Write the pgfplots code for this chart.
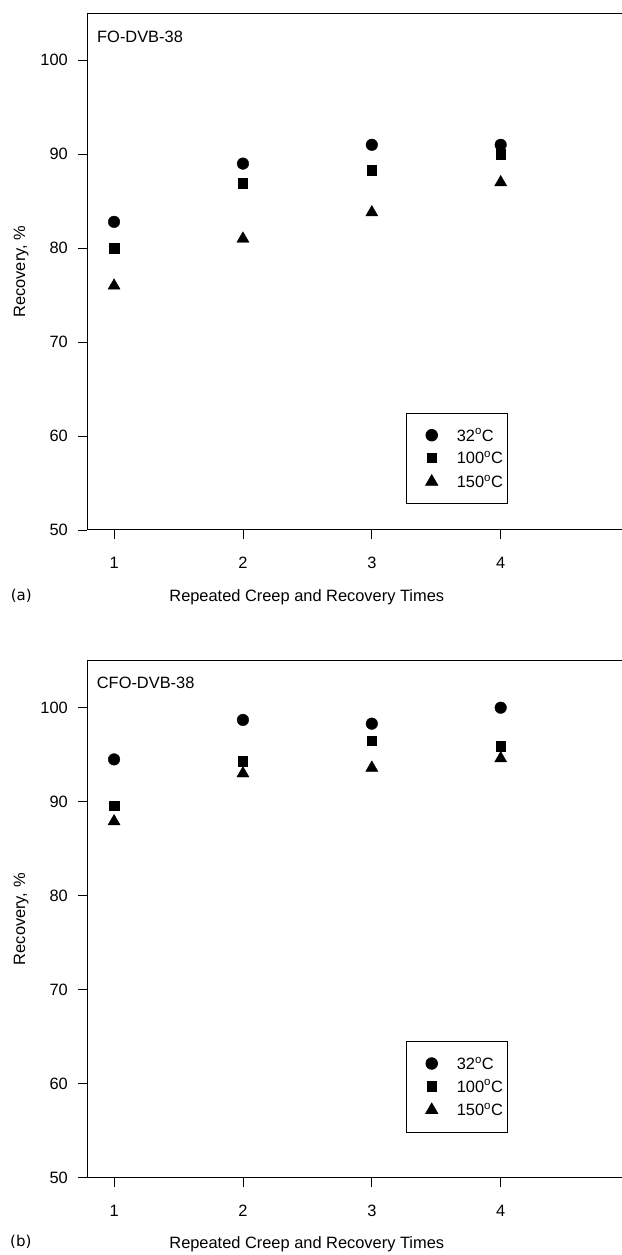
\documentclass[border=0pt]{standalone}
\usepackage{fontspec}
\setmainfont{Liberation Sans}
\newfontfamily\tagfont{DejaVu Sans}
\usepackage{pgfplots}
\pgfplotsset{compat=1.18}
\newcommand\fs{\fontsize{16.4}{19.7}\selectfont}
\pgfplotsset{
  panel/.style={
    scale only axis, width=536pt, height=516.7pt,
    xmin=0.79, xmax=4.949, ymin=50, ymax=105,
    axis x line*=bottom, axis y line*=left, clip=false,
    xtick={1,2,3,4}, ytick={50,60,70,80,90,100},
    tick align=outside, major tick length=9pt,
    tick style={black, line width=0.8pt},
    axis line style={line width=1pt, black},
    font=\fs,
    tick label style={font=\fs},
    label style={font=\fs},
    /pgf/number format/assume math mode=true,
    xticklabel style={anchor=center, inner sep=0pt, yshift=-24pt},
    yticklabel style={anchor=east, inner sep=0pt, xshift=-10pt},
    xlabel={Repeated Creep and Recovery Times},
    ylabel={Recovery, \%},
    xlabel style={at={(axis description cs:0.41,-0.131)}, anchor=center, inner sep=0pt},
    ylabel style={at={(axis description cs:-0.123,0.5)}, anchor=center, inner sep=0pt},
    legend cell align=left,
    legend image code/.code={\path (-20pt,0pt) (0pt,0pt);\draw[##1] plot coordinates {(0pt,0pt)};},
    legend style={anchor=south west, draw=black, line width=0.8pt,
      inner xsep=5pt, inner ysep=16pt, row sep=11pt, column sep=19pt,
      nodes={inner sep=0pt, text height=11.7pt, text depth=0pt}, font=\fs},
  },
  sA/.style={only marks, mark=*, mark size=5.8pt, black, mark options={fill=black, draw=black}},
  sB/.style={only marks, mark=square*, mark size=4.7pt, black, mark options={fill=black, draw=black}},
  sC/.style={only marks, mark=triangle*, mark size=7pt, black, mark options={fill=black, draw=black}},
}
\begin{document}
\begin{tikzpicture}
\path[use as bounding box] (0pt,0pt) rectangle (621pt,1255pt);
\begin{axis}[panel, at={(87pt,725pt)}, anchor=south west,
  legend style={at={(axis description cs:0.595,0.0503)}}]
\addplot[sA] coordinates {(1,82.8) (2,89.0) (3,91.0) (4,91.0)};
\addlegendentry{32\textsuperscript{o}C}
\addplot[sB] coordinates {(1,80.0) (2,86.9) (3,88.3) (4,90.0)};
\addlegendentry{100\textsuperscript{o}C}
\addplot[sC] coordinates {(1,76.0) (2,81.0) (3,83.8) (4,87.0)};
\addlegendentry{150\textsuperscript{o}C}
\draw[line width=1pt, black] (rel axis cs:0,1) -- (rel axis cs:1,1);
\node[anchor=west, inner sep=0pt, font=\fs] at (rel axis cs:0.0187,0.9547) {FO-DVB-38};
\end{axis}
\begin{axis}[panel, height=517pt, at={(87pt,77.3pt)}, anchor=south west,
  xlabel style={at={(axis description cs:0.41,-0.128)}},
  legend style={at={(axis description cs:0.595,0.0878)}}]
\addplot[sA] coordinates {(1,94.5) (2,98.7) (3,98.3) (4,100.0)};
\addlegendentry{32\textsuperscript{o}C}
\addplot[sB] coordinates {(1,89.6) (2,94.3) (3,96.5) (4,95.9)};
\addlegendentry{100\textsuperscript{o}C}
\addplot[sC] coordinates {(1,87.9) (2,93.0) (3,93.6) (4,94.6)};
\addlegendentry{150\textsuperscript{o}C}
\draw[line width=1pt, black] (rel axis cs:0,1) -- (rel axis cs:1,1);
\node[anchor=west, inner sep=0pt, font=\fs] at (rel axis cs:0.0181,0.9563) {CFO-DVB-38};
\end{axis}
\node[font=\tagfont\fontsize{15}{18}\selectfont] at (21.3pt,659pt) {(a)};
\node[font=\tagfont\fontsize{15}{18}\selectfont] at (20.8pt,13.3pt) {(b)};
\end{tikzpicture}
\end{document}
